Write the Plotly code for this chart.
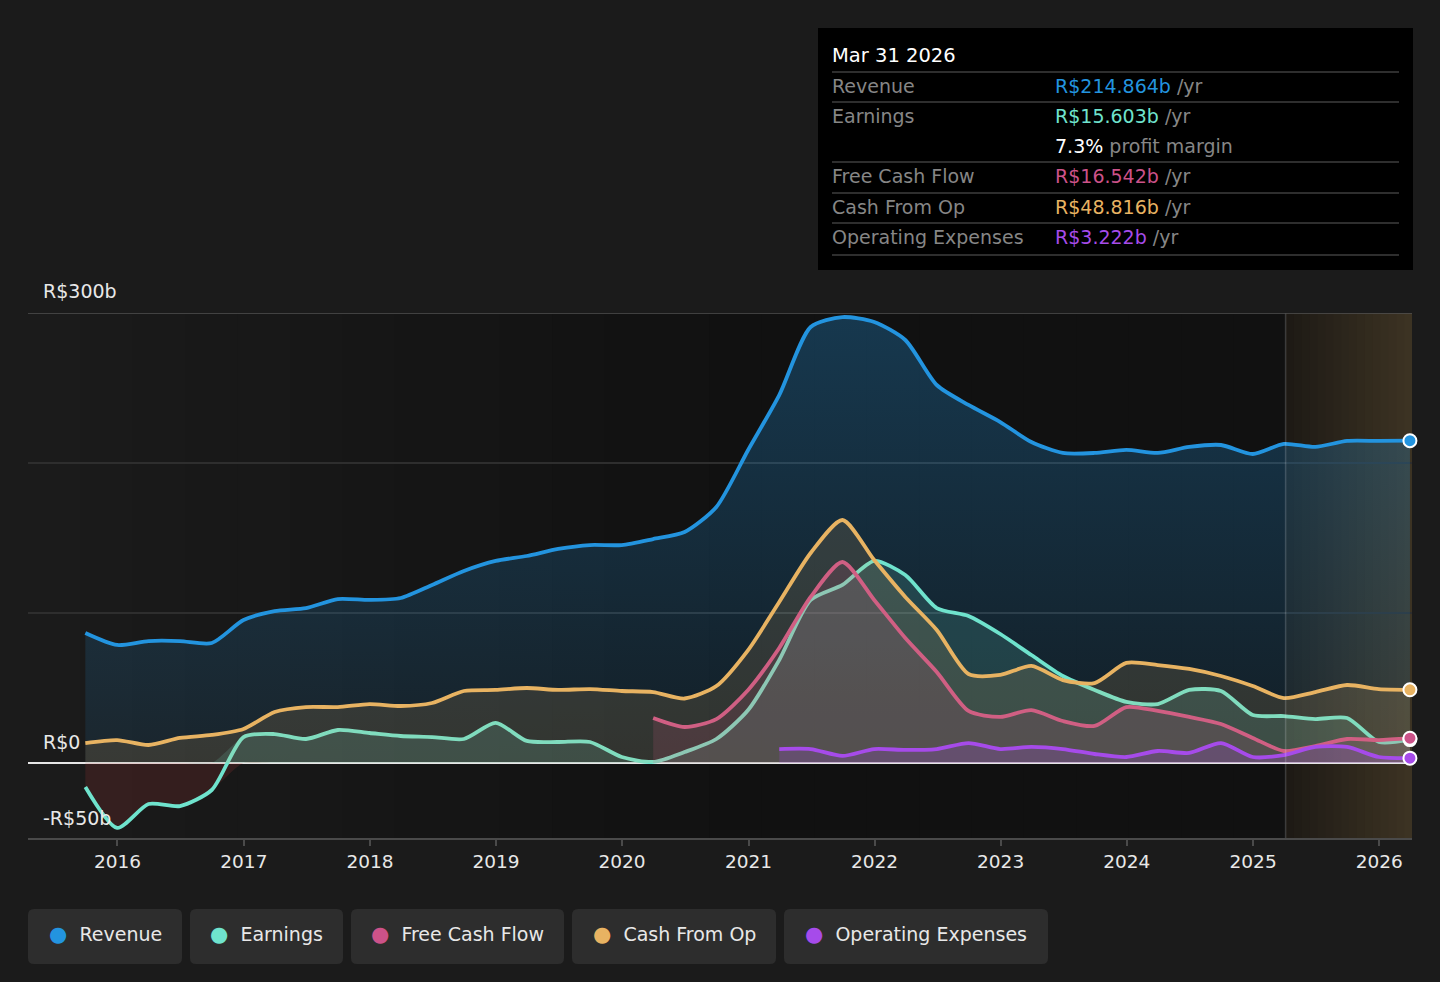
import numpy as np
import plotly.graph_objects as go

# quarter-end dates, Sep 2015 .. Mar 2026
dates = [f"{y}-{md}" for y in range(2015, 2027)
         for md in ("03-31", "06-30", "09-30", "12-31")][2:-3]

revenue = [86.7, 78.7, 81.3, 81.3, 80.0, 95.3, 101.3, 103.3, 109.3, 108.7, 110.0,
           118.7, 128.0, 134.7, 138.0, 142.7, 145.3, 145.3, 149.3, 154.0, 170.7,
           208.7, 245.3, 290.7, 297.3, 294.0, 282.0, 252.0, 238.7, 227.3, 214.0,
           206.7, 206.7, 208.7, 206.7, 210.7, 212.0, 206.0, 212.7, 210.7, 214.7,
           214.7, 214.864]
earnings = [-16.0, -43.3, -27.3, -28.7, -18.0, 17.3, 19.3, 16.0, 22.0, 20.0, 18.0,
            17.3, 16.0, 26.7, 14.7, 14.0, 14.0, 4.0, 0.7, 7.3, 16.0,
            35.3, 68.7, 108.7, 118.7, 134.7, 125.3, 103.3, 98.0, 86.0, 72.0,
            58.0, 48.7, 40.7, 39.3, 48.7, 48.0, 32.0, 31.3, 29.3, 30.0,
            14.0, 15.603]
cash_from_op = [13.3, 15.3, 12.0, 16.7, 18.7, 22.7, 34.0, 37.3, 37.3, 39.3, 38.0,
                40.0, 48.0, 48.7, 50.0, 48.7, 49.3, 48.0, 47.3, 43.0, 51.3,
                75.3, 107.3, 140.0, 162.0, 135.3, 110.7, 88.7, 59.3, 58.7, 64.7,
                55.3, 53.3, 66.7, 65.3, 62.7, 58.0, 51.3, 43.3, 47.3, 52.0,
                49.3, 48.816]
# free cash flow starts Mar 2020, operating expenses Mar 2021
fcf_start = 18
free_cash_flow = [30.0, 24.0, 29.3, 48.7, 76.7, 110.7, 134.0, 108.7, 83.3, 60.7,
                  34.7, 30.7, 35.3, 28.0, 24.7, 37.3, 34.7, 30.7, 26.0, 16.7,
                  8.0, 11.3, 16.0, 15.3, 16.542]
opex_start = 22
operating_expenses = [9.3, 9.3, 4.7, 9.3, 8.7, 9.3, 13.3, 9.3, 10.7, 9.3, 6.0,
                      4.0, 8.0, 6.7, 13.3, 4.0, 5.3, 10.7, 10.7, 4.0, 3.222]

year_ticks = list(range(2016, 2027))
forecast_start = "2025-04-05"

C_REV = "#2394df"
C_EARN = "#6fe3cd"
C_FCF = "#cc5289"
C_CFO = "#e8b362"
C_OPEX = "#a64bea"

FONT = "DejaVu Sans"
X0, X1, Y0, Y1 = 28, 1412, 313, 838  # plot area in pixels


def px(x):
    return (x - X0) / (X1 - X0)


def py(y):
    return (Y1 - y) / (Y1 - Y0)


def rgba(hex_color, a):
    h = hex_color.lstrip("#")
    r, g, b = int(h[0:2], 16), int(h[2:4], 16), int(h[4:6], 16)
    return f"rgba({r},{g},{b},{a})"


def rounded_box(a, b, top, bottom, r=6):
    xa, xb = px(a), px(b)
    yt, yb = py(top), py(bottom)
    rx, ry = r / (X1 - X0), r / (Y1 - Y0)
    return (f"M {xa + rx},{yt} L {xb - rx},{yt} Q {xb},{yt} {xb},{yt - ry} "
            f"L {xb},{yb + ry} Q {xb},{yb} {xb - rx},{yb} L {xa + rx},{yb} "
            f"Q {xa},{yb} {xa},{yb + ry} L {xa},{yt - ry} Q {xa},{yt} {xa + rx},{yt} Z")


fig = go.Figure()
line_kw = dict(shape="spline", smoothing=0.7, width=3.8)

fig.add_trace(go.Scatter(
    x=dates, y=revenue, mode="lines", line=dict(color=C_REV, **line_kw),
    fill="tozeroy",
    fillgradient=dict(type="vertical", start=0, stop=300,
                      colorscale=[[0, rgba(C_REV, 0.10)], [1, rgba(C_REV, 0.30)]]),
    hoverinfo="skip"))

earn = np.array(earnings)
fig.add_trace(go.Scatter(
    x=dates, y=np.minimum(earn, 0), mode="lines", line=dict(width=0, shape="spline", smoothing=0.7),
    fill="tozeroy", fillcolor="rgba(200,60,60,0.16)", hoverinfo="skip"))
fig.add_trace(go.Scatter(
    x=dates, y=np.maximum(earn, 0), mode="lines", line=dict(width=0, shape="spline", smoothing=0.7),
    fill="tozeroy", fillcolor=rgba(C_EARN, 0.16), hoverinfo="skip"))
fig.add_trace(go.Scatter(
    x=dates, y=earnings, mode="lines", line=dict(color=C_EARN, **line_kw),
    hoverinfo="skip"))

fig.add_trace(go.Scatter(
    x=dates[fcf_start:], y=free_cash_flow, mode="lines", line=dict(color=C_FCF, **line_kw),
    fill="tozeroy", fillcolor=rgba(C_FCF, 0.16), hoverinfo="skip"))
fig.add_trace(go.Scatter(
    x=dates, y=cash_from_op, mode="lines", line=dict(color=C_CFO, **line_kw),
    fill="tozeroy", fillcolor=rgba(C_CFO, 0.14), hoverinfo="skip"))
fig.add_trace(go.Scatter(
    x=dates[opex_start:], y=operating_expenses, mode="lines", line=dict(color=C_OPEX, **line_kw),
    fill="tozeroy", fillcolor=rgba(C_OPEX, 0.2), hoverinfo="skip"))

# end-point markers
for vals, col in [(earnings, C_EARN), (revenue, C_REV), (cash_from_op, C_CFO),
                  (free_cash_flow, C_FCF), (operating_expenses, C_OPEX)]:
    fig.add_trace(go.Scatter(
        x=[dates[-1]], y=[vals[-1]], mode="markers", cliponaxis=False,
        marker=dict(size=13, color=col, line=dict(color="white", width=2)),
        hoverinfo="skip"))

shapes = []
# darkening background of the history part
n = 24
edges = np.linspace(0, 1, n + 1)
fc_px = 1286
for i in range(n):
    a = X0 + edges[i] * (fc_px - X0)
    b = X0 + edges[i + 1] * (fc_px - X0)
    t = min(1.0, (edges[i] + edges[i + 1]) / 2 / 0.55)
    v = int(round(27 - 10 * t))
    shapes.append(dict(type="rect", xref="paper", yref="paper", x0=px(a), x1=px(b) + 0.001,
                       y0=0, y1=1, fillcolor=f"rgb({v},{v},{v})", line_width=0, layer="below"))
# forecast shading
m = 16
for i in range(m):
    a = fc_px + (X1 - fc_px) * i / m
    b = fc_px + (X1 - fc_px) * (i + 1) / m
    t = (i + 0.5) / m
    r = int(29 + (62 - 29) * t)
    g = int(26 + (52 - 26) * t)
    bb = int(21 + (36 - 21) * t)
    shapes.append(dict(type="rect", xref="paper", yref="paper", x0=px(a), x1=min(1, px(b) + 0.001),
                       y0=0, y1=1, fillcolor=f"rgb({r},{g},{bb})", line_width=0, layer="below"))
shapes.append(dict(type="line", xref="x", yref="paper", x0=forecast_start, x1=forecast_start,
                   y0=0, y1=1, line=dict(color="rgba(255,255,255,0.18)", width=1.5)))
# top line at 300b
shapes.append(dict(type="line", xref="paper", yref="y", x0=0, x1=1, y0=300, y1=300,
                   line=dict(color="#505050", width=1.5)))

# tooltip panel
shapes.append(dict(type="rect", xref="paper", yref="paper", x0=px(818), x1=px(1413),
                   y0=py(270), y1=py(28), fillcolor="#000000", line_width=0))
for yy in (72, 102, 162, 193, 223, 255):
    shapes.append(dict(type="line", xref="paper", yref="paper", x0=px(832), x1=px(1399),
                       y0=py(yy), y1=py(yy), line=dict(color="#3e3e3e", width=1.5)))

ann = []
for txt, yy in [("R$300b", 291), ("R$0", 742), ("-R$50b", 818)]:
    ann.append(dict(text=txt, xref="paper", yref="paper", x=px(41), y=py(yy),
                    xanchor="left", yanchor="middle", showarrow=False,
                    font=dict(family=FONT, size=19, color="#e8e8e8")))

ann.append(dict(text="Mar 31 2026", xref="paper", yref="paper", x=px(830), y=py(55),
                xanchor="left", yanchor="middle", showarrow=False,
                font=dict(family=FONT, size=19.5, color="#ffffff")))
grey = "#868686"
rows = [
    ("Revenue", f"<span style='color:{C_REV}'>R$214.864b</span> /yr", 86),
    ("Earnings", f"<span style='color:{C_EARN}'>R$15.603b</span> /yr", 116),
    ("", "<span style='color:#ffffff'>7.3%</span> profit margin", 146),
    ("Free Cash Flow", f"<span style='color:{C_FCF}'>R$16.542b</span> /yr", 176),
    ("Cash From Op", f"<span style='color:{C_CFO}'>R$48.816b</span> /yr", 207),
    ("Operating Expenses", f"<span style='color:{C_OPEX}'>R$3.222b</span> /yr", 237),
]
for label, val, yy in rows:
    if label:
        ann.append(dict(text=label, xref="paper", yref="paper", x=px(830), y=py(yy),
                        xanchor="left", yanchor="middle", showarrow=False,
                        font=dict(family=FONT, size=19, color=grey)))
    ann.append(dict(text=val, xref="paper", yref="paper", x=px(1053), y=py(yy),
                    xanchor="left", yanchor="middle", showarrow=False,
                    font=dict(family=FONT, size=19, color=grey)))

# legend chips
legend = [("Revenue", C_REV, 28, 182), ("Earnings", C_EARN, 190, 343),
          ("Free Cash Flow", C_FCF, 351, 564), ("Cash From Op", C_CFO, 572, 776),
          ("Operating Expenses", C_OPEX, 784, 1048)]
for name, col, a, b in legend:
    shapes.append(dict(type="path", xref="paper", yref="paper", path=rounded_box(a, b, 909, 964),
                       fillcolor="#2d2d2d", line_width=0))
    ann.append(dict(text=f"<span style='color:{col};font-size:21px'>●</span>  {name}",
                    xref="paper", yref="paper", x=px((a + b) / 2), y=py(934),
                    xanchor="center", yanchor="middle", showarrow=False,
                    align="center", font=dict(family=FONT, size=19, color="#e8e8e8")))

fig.update_layout(
    width=1440, height=982,
    margin=dict(l=X0, r=1440 - X1, t=Y0, b=982 - Y1),
    paper_bgcolor="#1b1b1b", plot_bgcolor="#1b1b1b",
    showlegend=False, hovermode=False,
    shapes=shapes, annotations=ann,
    font=dict(family=FONT, color="#e8e8e8"),
)
fig.update_xaxes(
    type="date", range=["2015-04-17", "2026-04-06"],
    tickvals=[f"{y}-01-01" for y in year_ticks], ticktext=[str(y) for y in year_ticks],
    ticks="outside", ticklen=6, tickcolor="#4a4a4a", tickwidth=1.5,
    showgrid=False, showline=True, linecolor="#4a4a4a", linewidth=2,
    tickfont=dict(family=FONT, size=18.5, color="#e8e8e8"), ticklabelstandoff=0,
    zeroline=False,
)
fig.update_yaxes(
    range=[-50, 300], tickvals=[0, 100, 200, 300], showticklabels=False,
    showgrid=True, gridcolor="#2e2e2e", gridwidth=1.5,
    zeroline=True, zerolinecolor="#e6e6e6", zerolinewidth=2,
)

fig.write_html("out.html", config={"displayModeBar": False},
               post_script="document.body.style.margin='0';")
